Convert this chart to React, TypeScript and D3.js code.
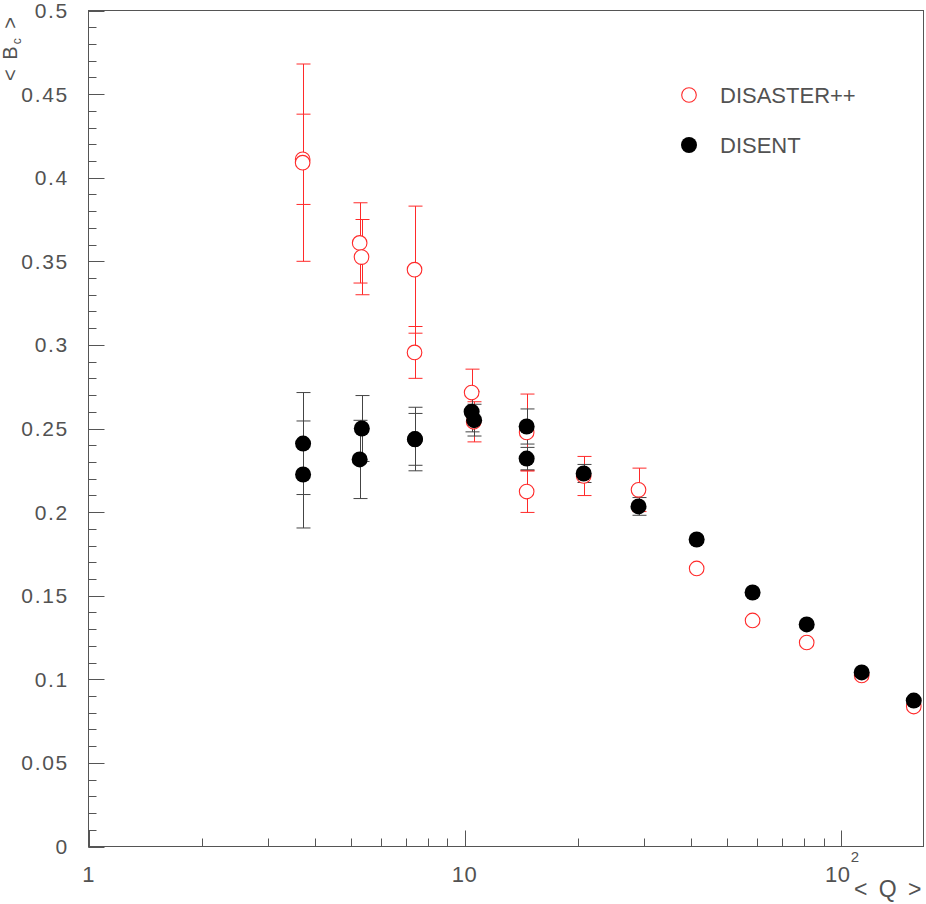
import React from "react";
import * as d3 from "d3";

// ---- data ----
const disasterQ = [3.71, 3.71, 5.26, 5.32, 7.36, 7.36, 10.44, 10.57, 14.62, 14.62, 20.73, 29.0, 41.4, 58.3, 81.2, 113.7, 156.4];
const disasterB = [0.411, 0.409, 0.361, 0.3525, 0.345, 0.2955, 0.2715, 0.254, 0.2476, 0.2123, 0.2216, 0.2133, 0.1663, 0.1352, 0.122, 0.1023, 0.0837];
const disasterErr = [0.027, 0.059, 0.024, 0.0225, 0.038, 0.0155, 0.014, 0.012, 0.023, 0.0125, 0.0117, 0.013, 0, 0, 0, 0, 0];

const disentQ = [3.72, 3.72, 5.26, 5.33, 7.38, 7.38, 10.44, 10.6, 14.62, 14.62, 20.73, 29.0, 41.4, 58.3, 81.2, 113.7, 156.4];
const disentB = [0.241, 0.2225, 0.2315, 0.25, 0.2437, 0.2435, 0.26, 0.255, 0.2512, 0.232, 0.2231, 0.2034, 0.1836, 0.1519, 0.1328, 0.1041, 0.0873];
const disentErr = [0.0305, 0.032, 0.0234, 0.0197, 0.019, 0.0155, 0.012, 0.0095, 0.0105, 0.0067, 0.0054, 0.0053, 0, 0, 0, 0, 0];

const yTickValues = [0, 0.05, 0.1, 0.15, 0.2, 0.25, 0.3, 0.35, 0.4, 0.45, 0.5];
const yTickLabels = ["0", "0.05", "0.1", "0.15", "0.2", "0.25", "0.3", "0.35", "0.4", "0.45", "0.5"];
const xMajorValues = [1, 10, 100];
const xMajorLabels = ["1", "10", "10"];
const xMajorSup = ["", "", "2"];
const legendLabels = ["DISASTER++", "DISENT"];

const W = 926, H = 904;
const FONT = "'Liberation Sans', Arial, sans-serif";
const AX = "#555";
const TXT = "#525252";
const RED = "#ff2a2a";
const ERRBLK = "#444";

export default function App() {
  const x = d3.scaleLog().domain([1, 166]).range([88.5, 923.5]);
  const y = d3.scaleLinear().domain([0, 0.5]).range([846.5, 10.5]);
  const [x0, x1] = x.range();
  const [yb, yt] = y.range();

  const yMinor = d3.range(0, 0.5001, 0.01).map((v) => +v.toFixed(3));
  const xMinor: number[] = [];
  for (const dec of [1, 10, 100]) {
    for (let k = 2; k <= 9; k++) {
      const v = dec * k;
      if (v <= 166) xMinor.push(v);
    }
  }

  const cap = 7;
  const errBars = (qs: number[], bs: number[], es: number[], color: string, key: string) =>
    qs.map((q, i) => {
      if (!es[i]) return null;
      const cx = Math.round(x(q)) + 0.5;
      const top = y(bs[i] + es[i]);
      const bot = y(bs[i] - es[i]);
      return (
        <g key={key + i} stroke={color} strokeWidth={1}>
          <line x1={cx} x2={cx} y1={top} y2={bot} />
          <line x1={cx - cap} x2={cx + cap} y1={top} y2={top} />
          <line x1={cx - cap} x2={cx + cap} y1={bot} y2={bot} />
        </g>
      );
    });

  return (
    <svg width={W} height={H} style={{ position: "absolute", left: 0, top: 0 }} fontFamily={FONT}>
      <rect x={0} y={0} width={W} height={H} fill="#fff" />
      {/* frame */}
      <rect x={x0} y={yt} width={x1 - x0} height={yb - yt} fill="none" stroke={AX} strokeWidth={1} />
      {/* y ticks */}
      {yMinor.map((v, i) => (
        <line key={"ym" + i} x1={x0} x2={x0 + 8} y1={Math.round(y(v)) + 0.5} y2={Math.round(y(v)) + 0.5} stroke={AX} />
      ))}
      {yTickValues.map((v, i) => (
        <g key={"yt" + i}>
          <line x1={x0} x2={x0 + 16} y1={Math.round(y(v)) + 0.5} y2={Math.round(y(v)) + 0.5} stroke={AX} />
          <text x={69} y={y(v)} dy="0.36em" textAnchor="end" fontSize={21} letterSpacing={1.7} fill={TXT}>
            {yTickLabels[i]}
          </text>
        </g>
      ))}
      {/* x ticks */}
      {xMinor.map((v, i) => (
        <line key={"xm" + i} x1={Math.round(x(v)) + 0.5} x2={Math.round(x(v)) + 0.5} y1={yb} y2={yb - 8} stroke={AX} />
      ))}
      {xMajorValues.map((v, i) => (
        <g key={"xt" + i}>
          <line x1={Math.round(x(v)) + 0.5} x2={Math.round(x(v)) + 0.5} y1={yb} y2={yb - 16} stroke={AX} />
          <text x={x(v) - (xMajorSup[i] ? 3 : 0)} y={882} textAnchor="middle" fontSize={22} letterSpacing={0.5} fill={TXT}>
            {xMajorLabels[i]}
          </text>
          {xMajorSup[i] ? (
            <text x={x(v) + 10} y={862} fontSize={15} fill={TXT}>
              {xMajorSup[i]}
            </text>
          ) : null}
        </g>
      ))}
      {/* axis titles */}
      <text x={924} y={897} textAnchor="end" fontSize={23} letterSpacing={2.5} fill={TXT}>
        {"< Q >"}
      </text>
      <text transform="translate(17,48) rotate(-90)" textAnchor="middle" fontSize={20} letterSpacing={2} fill={TXT}>
        {"< B"}
        <tspan fontSize={12} dy={4}>c</tspan>
        <tspan dy={-4}>{" >"}</tspan>
      </text>
      {/* error bars */}
      {errBars(disasterQ, disasterB, disasterErr, RED, "re")}
      {errBars(disentQ, disentB, disentErr, ERRBLK, "be")}
      {/* markers */}
      {disasterQ.map((q, i) => (
        <circle key={"rc" + i} cx={x(q)} cy={y(disasterB[i])} r={7.3} fill="#fff" stroke={RED} strokeWidth={1.1} />
      ))}
      {disentQ.map((q, i) => (
        <circle key={"bc" + i} cx={x(q)} cy={y(disentB[i])} r={8} fill="#000" />
      ))}
      {/* legend */}
      <circle cx={689} cy={95} r={7.3} fill="#fff" stroke={RED} strokeWidth={1.1} />
      <text x={720} y={102.5} fontSize={22} fill={TXT}>{legendLabels[0]}</text>
      <circle cx={689} cy={145} r={8} fill="#000" />
      <text x={720} y={152.5} fontSize={22} fill={TXT}>{legendLabels[1]}</text>
    </svg>
  );
}
